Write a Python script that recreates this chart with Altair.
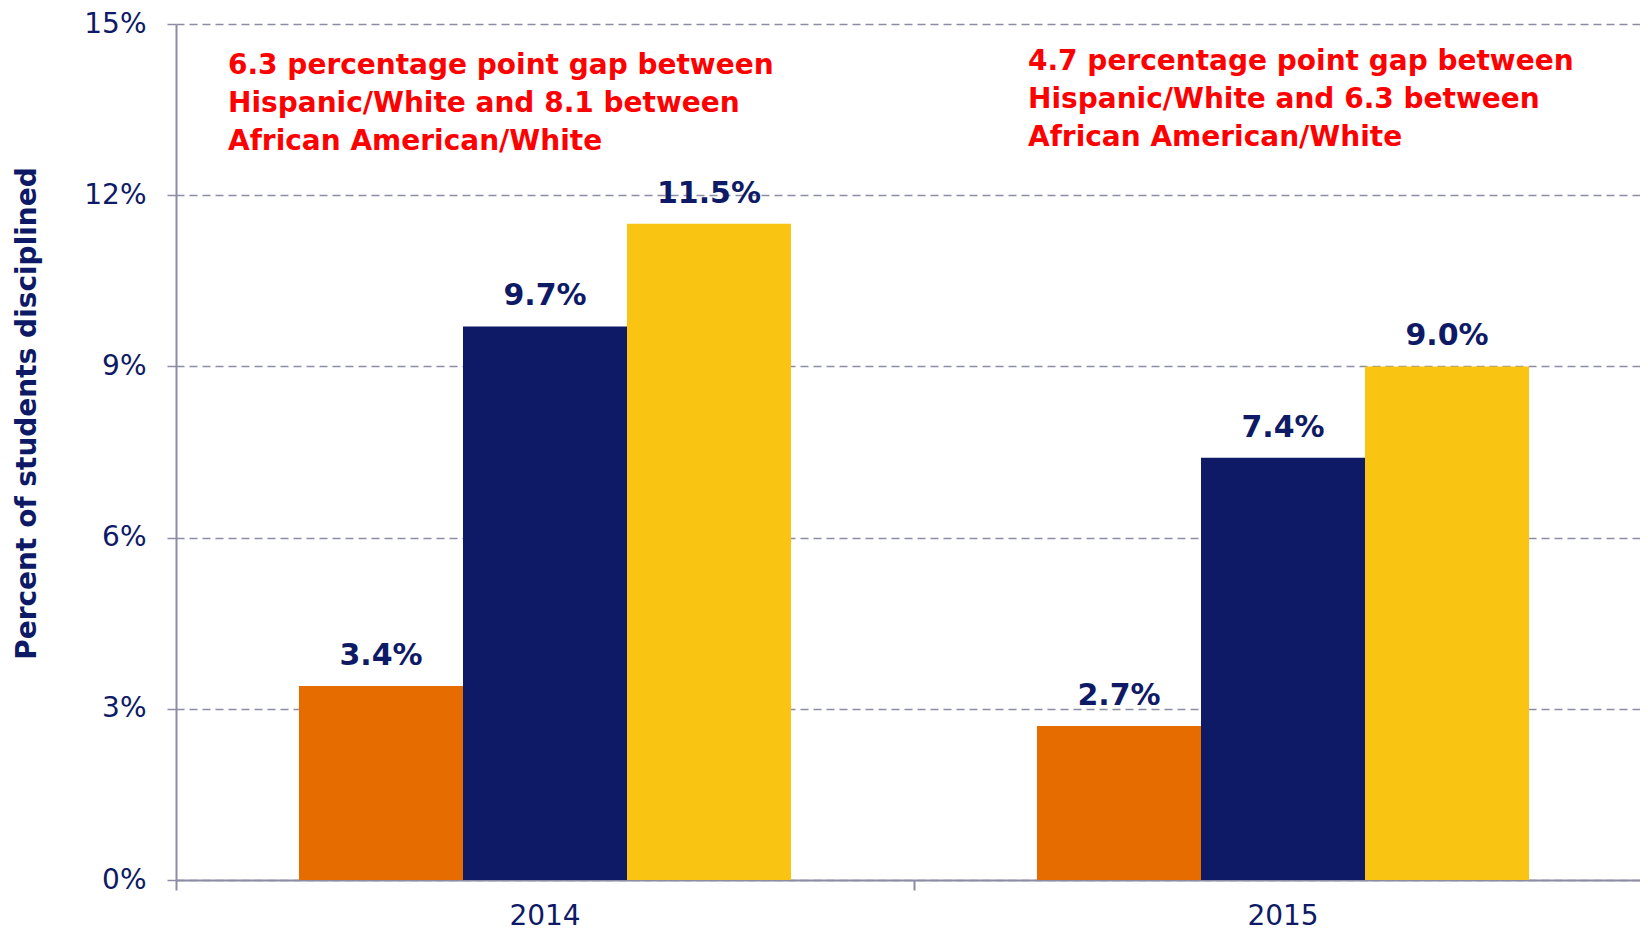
import altair as alt
import pandas as pd

years = ["2014", "2014", "2014", "2015", "2015", "2015"]
groups = ["White", "Hispanic", "African American", "White", "Hispanic", "African American"]
rates = [0.034, 0.097, 0.115, 0.027, 0.074, 0.090]

group_order = ["White", "Hispanic", "African American"]
group_colors = ["#E76C00", "#0E1A66", "#F9C412"]

y_ticks = [0, 0.03, 0.06, 0.09, 0.12, 0.15]

note_years = ["2014", "2015"]
note_texts = [
    ["6.3 percentage point gap between", "Hispanic/White and 8.1 between", "African American/White"],
    ["4.7 percentage point gap between", "Hispanic/White and 6.3 between", "African American/White"],
]

df = pd.DataFrame({"year": years, "group": groups, "rate": rates})
notes = pd.DataFrame({"year": note_years, "text": note_texts})

NAVY = "#0E1A66"
GREY = "#8C8CA6"
FONT = "DejaVu Sans"

x_enc = alt.X(
    "year:N",
    sort=note_years,
    scale=alt.Scale(paddingInner=0, paddingOuter=0, range=[0, 1476]),
    axis=alt.Axis(
        title=None, labelAngle=0, bandPosition=0, tickSize=10, tickColor=GREY, tickWidth=2,
        domainColor=GREY, domainWidth=2, labelFont=FONT, labelFontSize=28, labelColor=NAVY,
        labelPadding=26, labelBaseline="middle", grid=False,
    ),
)
y_enc = alt.Y(
    "rate:Q",
    scale=alt.Scale(domain=[0, 0.15], nice=False),
    axis=alt.Axis(
        values=y_ticks, format=".0%", grid=True, gridDash=[8, 5], gridColor=GREY, gridWidth=1.3,
        domainColor=GREY, domainWidth=2, tickColor=GREY, tickSize=9, tickWidth=1.5,
        labelPadding=21, labelFont=FONT, labelFontSize=28, labelColor=NAVY,
        title="Percent of students disciplined", titleFont=FONT, titleFontSize=28,
        titleFontWeight="bold", titleColor=NAVY, titleX=-149, titleY=389, titleAngle=270,
        titleAlign="center", titleBaseline="middle",
    ),
)
xoff = alt.XOffset("group:N", sort=group_order, scale=alt.Scale(paddingOuter=0.75, paddingInner=0))

bars = alt.Chart(df).mark_bar().encode(
    x=x_enc,
    y=y_enc,
    xOffset=xoff,
    color=alt.Color("group:N", scale=alt.Scale(domain=group_order, range=group_colors), legend=None),
)

labels = alt.Chart(df).mark_text(
    font=FONT, fontSize=30, fontWeight="bold", color=NAVY, baseline="middle", dy=-30
).encode(
    x=alt.X("year:N", sort=note_years),
    y="rate:Q",
    xOffset=xoff,
    text=alt.Text("rate:Q", format=".1%"),
)

def note_layer(year, dx, yval):
    return alt.Chart(notes).transform_filter(alt.datum.year == year).mark_text(
        font=FONT, fontSize=28, fontWeight="bold", color="#FF0000", align="left",
        baseline="alphabetic", lineHeight=38, dx=dx,
    ).encode(
        x=alt.X("year:N", sort=note_years, bandPosition=0),
        y=alt.datum(yval),
        text="text",
    )

chart = alt.layer(
    bars, labels, note_layer("2014", 52, 0.1412), note_layer("2015", 114, 0.1419)
).properties(
    width=1464, height=856,
    autosize=alt.AutoSizeParams(type="none"),
    padding={"left": 168, "top": 16, "right": 0, "bottom": 50},
).configure_view(stroke=None)

chart.save("out.html", embed_options={"renderer": "svg", "actions": False})
